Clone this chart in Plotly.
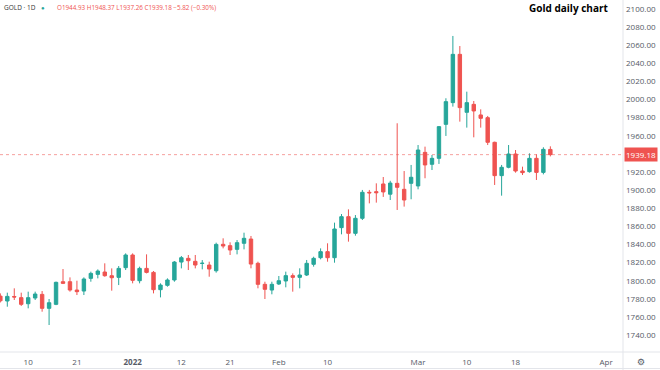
import datetime as dt
import plotly.graph_objects as go

# ---------------- data ----------------
dates = [
    "2021-12-06", "2021-12-07", "2021-12-08", "2021-12-09", "2021-12-10",
    "2021-12-13", "2021-12-14", "2021-12-15", "2021-12-16", "2021-12-17",
    "2021-12-20", "2021-12-21", "2021-12-22", "2021-12-23",
    "2021-12-27", "2021-12-28", "2021-12-29", "2021-12-30", "2021-12-31",
    "2022-01-03", "2022-01-04", "2022-01-05", "2022-01-06", "2022-01-07",
    "2022-01-10", "2022-01-11", "2022-01-12", "2022-01-13", "2022-01-14",
    "2022-01-17", "2022-01-18", "2022-01-19", "2022-01-20", "2022-01-21",
    "2022-01-24", "2022-01-25", "2022-01-26", "2022-01-27", "2022-01-28",
    "2022-01-31", "2022-02-01", "2022-02-02", "2022-02-03", "2022-02-04",
    "2022-02-07", "2022-02-08", "2022-02-09", "2022-02-10", "2022-02-11",
    "2022-02-14", "2022-02-15", "2022-02-16", "2022-02-17", "2022-02-18",
    "2022-02-21", "2022-02-22", "2022-02-23", "2022-02-24", "2022-02-25",
    "2022-02-28", "2022-03-01", "2022-03-02", "2022-03-03", "2022-03-04",
    "2022-03-07", "2022-03-08", "2022-03-09", "2022-03-10", "2022-03-11",
    "2022-03-13", "2022-03-14", "2022-03-15", "2022-03-16", "2022-03-17",
    "2022-03-18", "2022-03-20", "2022-03-21", "2022-03-22", "2022-03-23",
    "2022-03-24",
]

open_ = [
    1783.0, 1777.6, 1782.6, 1781.3, 1774.6, 1780.9, 1784.9, 1769.5, 1773.9, 1798.9,
    1798.9, 1789.7, 1788.6, 1802.6, 1807.0, 1809.6, 1805.5, 1803.7, 1814.4, 1828.4,
    1800.0, 1813.6, 1809.2, 1790.1, 1794.9, 1800.8, 1820.6, 1824.7, 1821.4, 1819.0,
    1817.3, 1811.0, 1840.2, 1838.7, 1834.6, 1841.3, 1846.0, 1819.2, 1796.0, 1789.7,
    1796.4, 1799.7, 1805.6, 1803.7, 1806.3, 1818.1, 1825.4, 1832.1, 1825.4, 1858.6,
    1870.7, 1852.3, 1868.9, 1897.6, 1898.3, 1906.8, 1895.5, 1907.5, 1900.9, 1907.5,
    1904.6, 1941.7, 1928.5, 1935.1, 1972.6, 1996.6, 2049.9, 1985.9, 1994.7, 1983.0,
    1980.0, 1952.8, 1916.0, 1925.2, 1939.9, 1921.1, 1920.4, 1935.1, 1919.6, 1944.93,
]
high = [
    1786.0, 1786.8, 1791.6, 1786.8, 1787.9, 1787.9, 1788.6, 1779.8, 1799.0, 1812.9,
    1803.7, 1800.0, 1803.7, 1810.0, 1812.5, 1819.2, 1813.6, 1816.2, 1830.2, 1830.2,
    1815.5, 1829.1, 1810.7, 1797.1, 1802.6, 1821.7, 1827.3, 1828.4, 1828.4, 1822.8,
    1821.0, 1842.0, 1846.8, 1842.4, 1844.9, 1853.0, 1849.4, 1821.0, 1798.9, 1798.9,
    1805.2, 1810.0, 1808.1, 1813.7, 1822.9, 1826.5, 1835.7, 1841.3, 1864.1, 1873.6,
    1878.8, 1872.5, 1900.2, 1900.2, 1907.5, 1914.5, 1910.3, 1973.8, 1921.1, 1927.8,
    1949.8, 1948.0, 1938.8, 1970.8, 2001.4, 2070.2, 2059.1, 2008.7, 1998.4, 1989.2,
    1981.9, 1953.5, 1927.8, 1949.8, 1944.3, 1925.9, 1940.6, 1939.5, 1947.3, 1948.37,
]
low = [
    1776.0, 1771.3, 1778.7, 1772.1, 1769.5, 1778.7, 1765.8, 1751.1, 1773.0, 1796.3,
    1787.9, 1784.2, 1784.2, 1798.9, 1802.6, 1804.4, 1789.0, 1795.2, 1811.8, 1797.1,
    1797.1, 1808.1, 1786.0, 1781.6, 1793.4, 1798.9, 1813.6, 1811.8, 1813.6, 1812.5,
    1804.4, 1808.9, 1835.7, 1828.4, 1829.1, 1834.6, 1813.7, 1791.6, 1779.8, 1785.0,
    1795.3, 1792.7, 1787.9, 1791.6, 1805.2, 1815.5, 1823.6, 1821.0, 1819.9, 1851.2,
    1843.1, 1849.7, 1867.0, 1885.4, 1886.2, 1892.5, 1889.1, 1878.1, 1881.8, 1889.9,
    1900.9, 1913.1, 1922.2, 1928.9, 1959.8, 1992.2, 1975.6, 1969.0, 1958.3, 1969.0,
    1949.8, 1905.7, 1893.9, 1924.1, 1919.3, 1916.7, 1919.3, 1911.2, 1917.4, 1937.26,
]
close = [
    1777.8, 1782.7, 1782.0, 1773.9, 1781.3, 1785.3, 1769.5, 1775.7, 1798.2, 1797.1,
    1789.7, 1787.9, 1801.9, 1808.1, 1810.7, 1805.5, 1803.3, 1813.6, 1828.4, 1800.4,
    1813.6, 1809.2, 1790.1, 1795.2, 1800.8, 1820.6, 1825.4, 1822.1, 1817.3, 1819.3,
    1812.9, 1840.1, 1838.3, 1833.9, 1842.0, 1846.8, 1818.4, 1796.0, 1790.5, 1796.0,
    1800.0, 1805.6, 1803.7, 1806.3, 1819.2, 1824.7, 1832.1, 1825.4, 1857.1, 1870.7,
    1852.3, 1868.9, 1897.6, 1897.0, 1897.2, 1898.0, 1907.8, 1903.1, 1889.1, 1914.2,
    1944.3, 1927.8, 1935.1, 1970.1, 1997.7, 2049.9, 1991.1, 1996.6, 1987.4, 1979.3,
    1952.8, 1916.0, 1925.2, 1939.9, 1921.1, 1919.3, 1935.1, 1919.6, 1945.00, 1939.18,
]

# x-axis tick labels: (date, label)
tick_dates = ["2021-12-10", "2021-12-21", "2022-01-03", "2022-01-12", "2022-01-21",
              "2022-02-01", "2022-02-10", "2022-03-01", "2022-03-10", "2022-03-18",
              "2022-04-01"]
tick_labels = ["10", "21", "<b>2022</b>", "12", "21", "Feb", "10", "Mar", "10", "18", "Apr"]

# y-axis price levels shown on the scale
y_ticks = [1740, 1760, 1780, 1800, 1820, 1840, 1860, 1880, 1900, 1920, 1940,
           1960, 1980, 2000, 2020, 2040, 2060, 2080, 2100]

symbol = "GOLD · 1D"
title = "Gold daily chart"

# ---------------- styling ----------------
UP = "#26a69a"
DOWN = "#ef5350"
TXT = "#555a66"
BORDER = "#e3e5ea"
FONT = "Open Sans"

W, H = 660, 370
ML, MR, MT, MB = 0, 37, 0, 18
PW, PH = W - ML - MR, H - MT - MB

# bar index positions (one slot per trading bar; future slots are calendar days)
xs = list(range(len(dates)))
last_day = dt.date.fromisoformat(dates[-1])


def pos_of(d):
    if d in dates:
        return dates.index(d)
    return xs[-1] + (dt.date.fromisoformat(d) - last_day).days


tickvals = [pos_of(d) for d in tick_dates]

last_close = close[-1]
prev_close = close[-2]
chg = last_close - prev_close
pct = chg / prev_close * 100

# the current-price label hides the level right underneath it
y_tickvals = [v for v in y_ticks if abs(v - last_close) > 8]

fig = go.Figure()
fig.add_trace(go.Candlestick(
    x=xs, open=open_, high=high, low=low, close=close,
    increasing=dict(line=dict(color=UP, width=1), fillcolor=UP),
    decreasing=dict(line=dict(color=DOWN, width=1), fillcolor=DOWN),
    whiskerwidth=0,
    hoverinfo="skip",
    showlegend=False,
))

# current price line
fig.add_shape(type="line", xref="paper", yref="y", x0=0, x1=1,
              y0=last_close, y1=last_close,
              line=dict(color="rgba(239,83,80,0.55)", width=1, dash="dot"))
# panel borders
fig.add_shape(type="line", xref="paper", yref="paper", x0=0, x1=W / PW,
              y0=0, y1=0, line=dict(color=BORDER, width=1))
fig.add_shape(type="line", xref="paper", yref="paper", x0=1, x1=1,
              y0=-MB / PH, y1=1, line=dict(color=BORDER, width=1))
fig.add_shape(type="line", xref="paper", yref="paper", x0=0, x1=W / PW,
              y0=-(MB - 1.5) / PH, y1=-(MB - 1.5) / PH, line=dict(color=BORDER, width=1))

ann = []
ann.append(dict(text="<b>" + title + "</b>", xref="paper", yref="paper",
                x=568 / PW, y=1 - 8 / PH, xanchor="center", yanchor="middle",
                showarrow=False, font=dict(family=FONT, size=10, color="#000000")))
ann.append(dict(text=symbol, xref="paper", yref="paper", x=2 / PW, y=1 - 8 / PH,
                xanchor="left", yanchor="middle", showarrow=False,
                font=dict(family=FONT, size=6.5, color="#333333")))
ann.append(dict(text="●", xref="paper", yref="paper", x=43 / PW, y=1 - 8 / PH,
                xanchor="center", yanchor="middle", showarrow=False,
                font=dict(family=FONT, size=6, color=UP)))
ohlc_txt = "O{:.2f} H{:.2f} L{:.2f} C{:.2f} {}{:.2f} ({}{:.2f}%)".format(
    open_[-1], high[-1], low[-1], close[-1],
    "−" if chg < 0 else "+", abs(chg), "−" if pct < 0 else "+", abs(pct))
ann.append(dict(text=ohlc_txt, xref="paper", yref="paper", x=55 / PW, y=1 - 8 / PH,
                xanchor="left", yanchor="middle", showarrow=False,
                font=dict(family=FONT, size=6.3, color=DOWN)))
ann.append(dict(text="{:.2f}".format(last_close), xref="paper", yref="y",
                x=(641 - ML) / PW, y=last_close, xanchor="center", yanchor="middle",
                showarrow=False, bgcolor=DOWN, borderpad=1,
                font=dict(family=FONT, size=8, color="#ffffff")))
ann.append(dict(text="⚙", xref="paper", yref="paper", x=(641 - ML) / PW,
                y=-10 / PH, xanchor="center", yanchor="middle", showarrow=False,
                font=dict(family="DejaVu Sans", size=9, color=TXT)))

px_per_bar = (550 - 0) / 79.0
fig.update_layout(
    width=W, height=H,
    margin=dict(l=ML, r=MR, t=MT, b=MB, autoexpand=False),
    paper_bgcolor="#ffffff", plot_bgcolor="#ffffff",
    showlegend=False,
    annotations=ann,
    font=dict(family=FONT, size=8, color=TXT),
    xaxis=dict(
        range=[-0.05, PW / px_per_bar - 0.05],
        rangeslider=dict(visible=False),
        showgrid=False, zeroline=False, showline=False,
        tickmode="array", tickvals=tickvals, ticktext=tick_labels,
        tickfont=dict(family=FONT, size=8, color=TXT),
        ticks="", automargin=False, ticklabelstandoff=4,
    ),
    yaxis=dict(
        side="right",
        range=[1721.3, 2109.9],
        tickmode="array", tickvals=y_tickvals, tickformat=".2f",
        showgrid=False, zeroline=False, showline=False,
        tickfont=dict(family=FONT, size=8, color=TXT),
        ticks="", automargin=False, ticklabelstandoff=2,
    ),
)

fig.write_html("out.html", config={"displayModeBar": False},
               post_script="document.body.style.margin='0';")
